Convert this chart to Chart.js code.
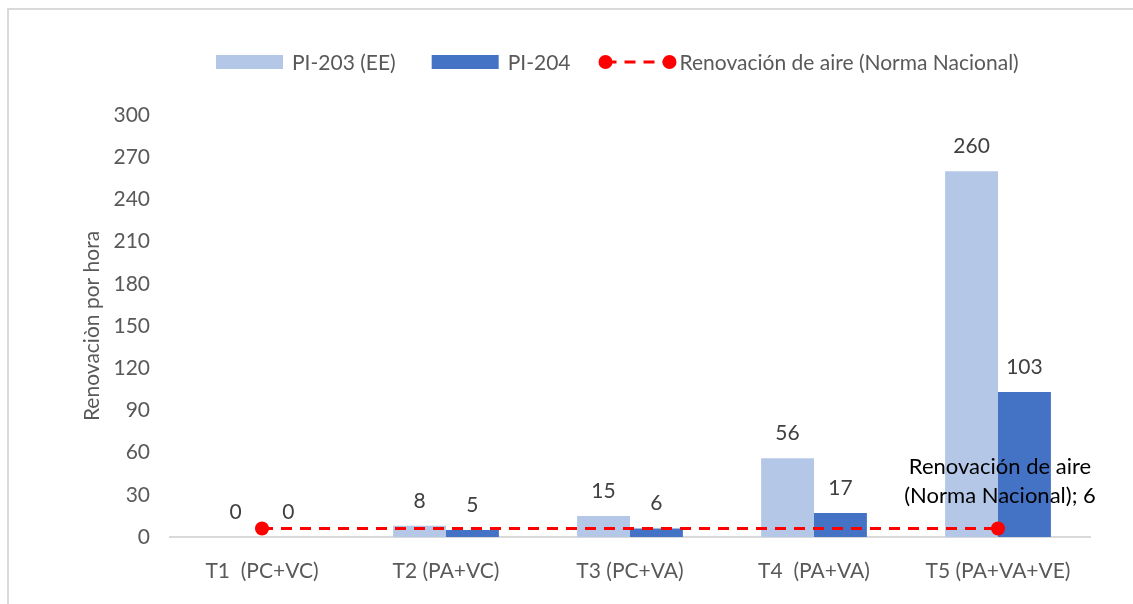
<!DOCTYPE html>
<html>
<head>
<meta charset="utf-8">
<script src="https://cdn.jsdelivr.net/npm/chart.js@4/dist/chart.umd.min.js"></script>
<style>
  html, body { margin: 0; padding: 0; background: #fff; overflow: hidden; }
  #frame { position: absolute; left: 7px; top: 8px; width: 1200px; height: 700px; border: 2px solid #d9d9d9; box-sizing: border-box; }
  #wrap { position: absolute; left: 0; top: 0; width: 1133px; height: 604px; }
</style>
</head>
<body>
<div id="frame"></div>
<div id="wrap"><canvas id="grafico" width="1133" height="604"></canvas></div>
<script>
const categorias = ["T1  (PC+VC)", "T2 (PA+VC)", "T3 (PC+VA)", "T4  (PA+VA)", "T5 (PA+VA+VE)"];
const pi203 = [0, 8, 15, 56, 260];
const pi204 = [0, 5, 6, 17, 103];
const norma = [6, 6, 6, 6, 6];
const ticksY = [0, 30, 60, 90, 120, 150, 180, 210, 240, 270, 300];

const nombres = {
  a: "PI-203 (EE)",
  b: "PI-204",
  c: "Renovación de aire (Norma Nacional)"
};

const FONT = "Lato";
const gris = "#595959";

// etiquetas de datos y leyenda dibujadas a mano
const etiquetas = {
  id: "etiquetas",
  afterDatasetsDraw(chart) {
    const ctx = chart.ctx;
    ctx.save();
    ctx.textAlign = "center";
    ctx.textBaseline = "middle";
    chart.data.datasets.forEach((ds, i) => {
      const meta = chart.getDatasetMeta(i);
      if (ds.type === "line") {
        const last = meta.data[meta.data.length - 1];
        const partes = ds.label.split(" (");
        ctx.font = "22px " + FONT;
        ctx.fillStyle = "#000";
        ctx.fillText(partes[0], last.x + 2, last.y - 62);
        ctx.fillText("(" + partes[1] + "; " + ds.data[ds.data.length - 1], last.x + 2, last.y - 33);
        return;
      }
      ctx.font = "21px " + FONT;
      ctx.fillStyle = "#404040";
      meta.data.forEach((bar, j) => {
        ctx.fillText(String(ds.data[j]), bar.x, bar.y - 25);
      });
    });
    ctx.restore();
  },
  afterDraw(chart) {
    const ctx = chart.ctx;
    const y = 62;
    let x = 216;
    ctx.save();
    ctx.font = "21px " + FONT;
    ctx.textBaseline = "middle";
    ctx.textAlign = "left";
    // orden de la leyenda: barras primero, luego la línea
    [1, 2, 0].forEach((i) => {
      const ds = chart.data.datasets[i];
      if (ds.type === "line") {
        ctx.strokeStyle = ds.borderColor;
        ctx.lineWidth = 3;
        ctx.setLineDash([11, 8]);
        ctx.beginPath();
        ctx.moveTo(x - 1, y);
        ctx.lineTo(x + 63, y);
        ctx.stroke();
        ctx.setLineDash([]);
        ctx.fillStyle = ds.borderColor;
        [x - 1, x + 63].forEach(cx => {
          ctx.beginPath();
          ctx.arc(cx, y, 7, 0, Math.PI * 2);
          ctx.fill();
        });
        x += 73;
      } else {
        ctx.fillStyle = ds.backgroundColor;
        ctx.fillRect(x, y - 7, 67, 14);
        x += 76;
      }
      ctx.fillStyle = gris;
      ctx.fillText(ds.label, x, y + 1);
      x += ctx.measureText(ds.label).width + 36;
    });
    ctx.restore();
  }
};

const ctx = document.getElementById("grafico").getContext("2d");

new Chart(ctx, {
  type: "bar",
  data: {
    labels: categorias,
    datasets: [
      {
        type: "line",
        label: nombres.c,
        data: norma,
        borderColor: "#FF0000",
        backgroundColor: "#FF0000",
        borderWidth: 3,
        borderDash: [11, 8],
        pointRadius: c => (c.dataIndex === 0 || c.dataIndex === norma.length - 1) ? 7 : 0,
        pointBackgroundColor: "#FF0000",
        pointBorderWidth: 0,
        order: 0
      },
      {
        label: nombres.a,
        data: pi203,
        backgroundColor: "#B4C7E7",
        barPercentage: 1,
        categoryPercentage: 0.575,
        order: 1
      },
      {
        label: nombres.b,
        data: pi204,
        backgroundColor: "#4472C4",
        barPercentage: 1,
        categoryPercentage: 0.575,
        order: 1
      }
    ]
  },
  options: {
    responsive: false,
    animation: false,
    layout: { padding: { top: 115, right: 43, bottom: 0, left: 0 } },
    plugins: {
      legend: { display: false },
      tooltip: { enabled: false }
    },
    scales: {
      x: {
        grid: { display: false },
        border: { display: true, color: "#d9d9d9", width: 2 },
        ticks: { color: gris, font: { family: FONT, size: 21 }, padding: 14, maxRotation: 0 },
        afterFit: s => { s.height = 67; }
      },
      y: {
        min: 0,
        max: 300,
        afterBuildTicks: s => { s.ticks = ticksY.map(v => ({ value: v })); },
        grid: { display: false, drawTicks: false },
        border: { display: false },
        ticks: { color: gris, font: { family: FONT, size: 21 }, padding: 20 },
        title: {
          display: true,
          text: "Renovaciòn por hora",
          color: gris,
          font: { family: FONT, size: 21 },
          padding: { top: 80 }
        },
        afterFit: s => { s.width = 170; }
      }
    }
  },
  plugins: [etiquetas]
});
</script>
</body>
</html>
